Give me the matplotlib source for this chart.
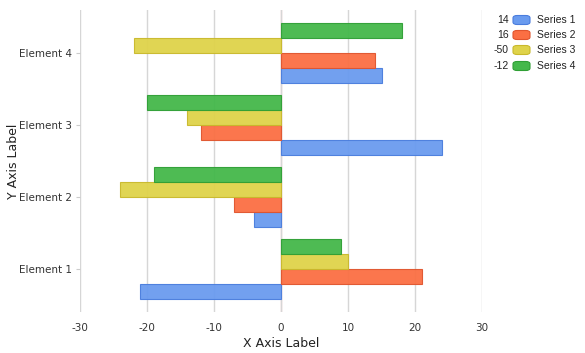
import numpy as np
import matplotlib
matplotlib.use('Agg')
import matplotlib.pyplot as plt
from matplotlib.patches import FancyBboxPatch

categories = ['Element 1', 'Element 2', 'Element 3', 'Element 4']
series_names = ['Series 1', 'Series 2', 'Series 3', 'Series 4']
s1 = [-21, -4, 24, 15]
s2 = [21, -7, -12, 14]
s3 = [10, -24, -14, -22]
s4 = [9, -19, -20, 18]
xticks = [-30, -20, -10, 0, 10, 20, 30]

series = [s1, s2, s3, s4]
fills = ['#6a9bef', '#fb6f43', '#dfd34a', '#44b84a']
edges = ['#4a7ddd', '#e0552e', '#c9b92c', '#2f9f35']

fig = plt.figure(figsize=(5.85, 3.53), dpi=100)
ax = fig.add_axes([80/585, 1-312/353, 402/585, 302/353])

y = np.arange(len(categories))
h = 0.207
for j, vals in enumerate(series):
    off = (j - 1.5) * h
    ax.barh(y + off, vals, height=h, color=fills[j], edgecolor=edges[j],
            linewidth=0.8, alpha=0.95, zorder=3)

ax.set_xlim(-30, 30)
ax.set_ylim(-0.59, 3.59)
ax.set_xticks(xticks)
ax.set_xticklabels([str(t) for t in xticks])
ax.set_yticks(y)
ax.set_yticklabels(categories)
for s in ax.spines.values():
    s.set_visible(False)
ax.grid(axis='x', color='#d6d6d6', linewidth=1, zorder=0)
ax.axvline(0, color='#f2c4c4', linewidth=1, zorder=1)
ax.tick_params(axis='x', length=0, pad=8, labelsize=7.5, labelcolor='#333333')
ax.tick_params(axis='y', length=3, color='#cccccc', pad=3, labelsize=7.5, labelcolor='#333333')
ax.set_xlabel('X Axis Label', fontsize=9, color='#222222', labelpad=3)
ax.set_ylabel('Y Axis Label', fontsize=9, color='#222222', va='center')
ax.yaxis.set_label_coords((13 - 80) / 402, 0.5)

# legend with series totals
rows = [20, 35, 50, 66]
for j, name in enumerate(series_names):
    yy = 1 - rows[j]/353
    fig.text(509/585, yy, str(sum(series[j])), ha='right', va='center',
             fontsize=7.5, family='Liberation Sans', color='#222222')
    p = FancyBboxPatch((513/585, yy - 4.5/353), 17/585, 9/353,
                       boxstyle='round,pad=0,rounding_size=0.007',
                       transform=fig.transFigure, facecolor=fills[j],
                       edgecolor=edges[j], linewidth=0.8)
    fig.patches.append(p)
    fig.text(537/585, yy, name, ha='left', va='center',
             fontsize=7.5, family='Liberation Sans', color='#222222')

fig.savefig('out.png', dpi=100)
